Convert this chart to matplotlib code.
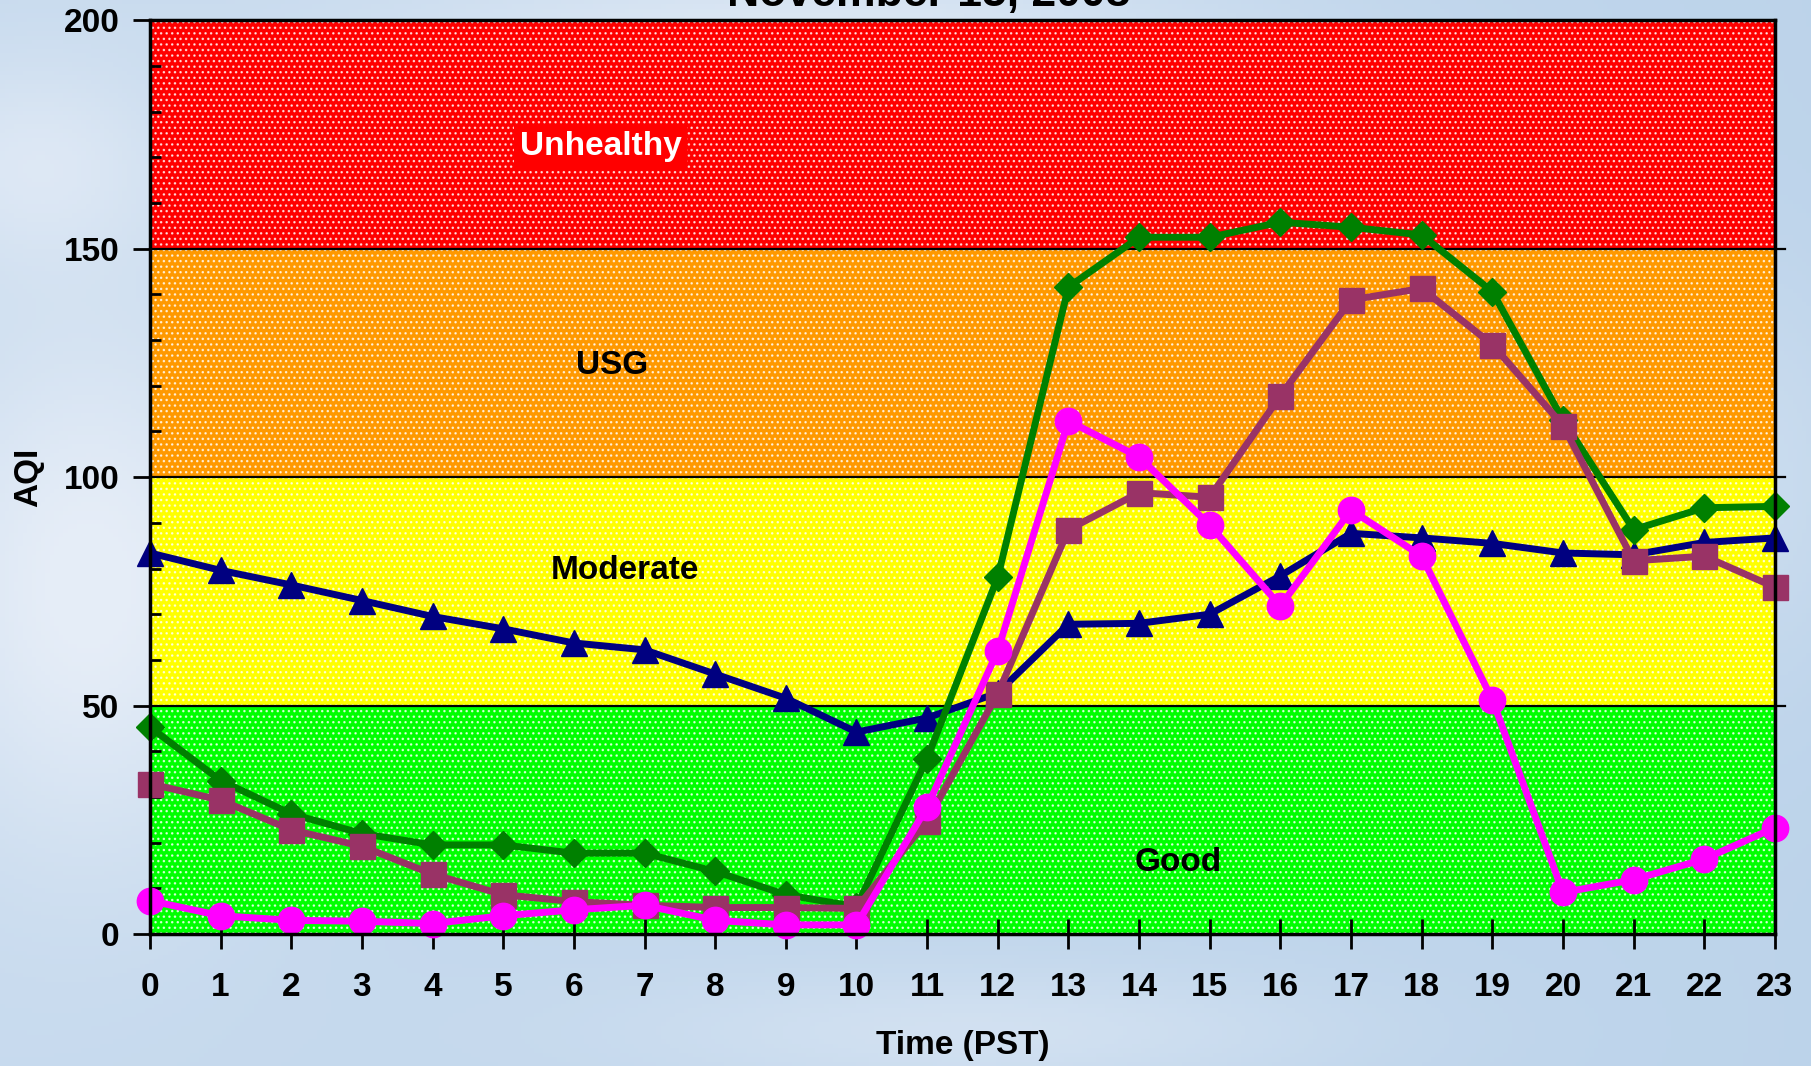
import numpy as np
import matplotlib
matplotlib.use("Agg")
import matplotlib.pyplot as plt

plt.rcParams['font.family'] = ['Liberation Sans', 'DejaVu Sans']
plt.rcParams['font.weight'] = 'bold'
plt.rcParams['hatch.linewidth'] = 1.0

hours = list(range(24))

# hourly AQI at the four sites
site_tri = [83.4, 79.6, 76.4, 73.0, 69.5, 66.8, 63.7, 62.2, 56.9, 51.6, 44.2, 47.3,
            52.8, 67.8, 68.0, 70.0, 78.4, 87.7, 86.7, 85.5, 83.4, 83.0, 85.7, 86.7]
site_dia = [45.3, 33.6, 26.3, 22.0, 19.5, 19.5, 17.7, 17.7, 13.7, 8.6, 6.0, 38.4,
            78.1, 141.6, 152.5, 152.5, 155.8, 154.7, 153.0, 140.6, 112.5, 88.5, 93.3, 93.6]
site_sq = [32.9, 29.3, 22.8, 19.2, 13.1, 8.6, 7.1, 6.3, 5.8, 5.8, 5.6, 24.8,
           52.6, 88.5, 96.6, 95.6, 117.8, 138.8, 141.3, 129.0, 111.3, 81.7, 82.7, 75.9]
site_circ = [7.3, 4.0, 3.0, 2.8, 2.3, 4.0, 5.3, 6.3, 3.0, 2.0, 2.0, 27.8,
             62.0, 112.3, 104.4, 89.5, 71.8, 92.8, 82.7, 51.3, 9.1, 11.9, 16.4, 23.3]

band_edges = [0, 50, 100, 150, 200]
band_colors = ['#00ff00', '#ffff00', '#ff9900', '#ff0000']
band_names = ['Good', 'Moderate', 'USG', 'Unhealthy']
band_label_pos = [(14.55, 15.7), (6.72, 79.6), (6.54, 124.4), (6.38, 172.4)]

fig = plt.figure(figsize=(18.11, 10.66), dpi=100)

# sky backdrop
bg = fig.add_axes([0, 0, 1, 1], zorder=-10)
gx, gy = np.meshgrid(np.linspace(0, 1, 400), np.linspace(0, 1, 240))
light = np.array([0.90, 0.93, 0.97])
deep = np.array([0.74, 0.83, 0.92])
w = 0.25 * (1 - gx)
for cx, cy, sx, sy, a in [(0.05, 0.55, 0.10, 0.25, 0.8), (0.45, 0.02, 0.25, 0.05, 0.6),
                          (0.02, 0.15, 0.08, 0.10, 0.5), (0.55, 0.97, 0.20, 0.06, 0.4),
                          (0.98, 0.45, 0.05, 0.20, 0.3)]:
    w = w + a * np.exp(-((gx - cx) / sx) ** 2 - ((gy - cy) / sy) ** 2)
w = np.clip(w, 0, 1)[..., None]
img = deep * (1 - w) + light * w
bg.imshow(img, extent=[0, 1, 0, 1], aspect='auto', origin='upper')
bg.axis('off')

ax = fig.add_axes([0.0828, 0.1238, 0.8973, 0.8572])
ax.patch.set_visible(False)

for lo, hi, c in zip(band_edges[:-1], band_edges[1:], band_colors):
    ax.axhspan(lo, hi, facecolor=c, edgecolor=(1, 1, 1, 0.75), hatch='...', lw=0, zorder=0)
for y in band_edges[1:-1]:
    ax.axhline(y, xmin=0, xmax=1.006, color='black', lw=1.6, clip_on=False, zorder=1)

for name, (x, y) in zip(band_names, band_label_pos):
    if name == 'Unhealthy':
        ax.text(x, y, name, ha='center', va='center', fontsize=24, color='white',
                fontweight='bold', zorder=2,
                bbox=dict(facecolor='#ff0000', edgecolor='none', pad=4))
    else:
        ax.text(x, y, name, ha='center', va='center', fontsize=24, color='black',
                fontweight='bold', zorder=2)

ax.plot(hours, site_tri, color='#000080', lw=5, marker='^', ms=19, clip_on=False, zorder=3)
ax.plot(hours, site_dia, color='#008000', lw=5, marker='D', ms=14, clip_on=False, zorder=4)
ax.plot(hours, site_sq, color='#993366', lw=5, marker='s', ms=18, clip_on=False, zorder=5)
ax.plot(hours, site_circ, color='#ff00ff', lw=5, marker='o', ms=19, clip_on=False, zorder=6)

ax.set_xlim(0, 23)
ax.set_ylim(0, 200)
ax.set_xticks(hours)
ax.set_yticks([0, 50, 100, 150, 200])
ax.set_yticks(range(0, 201, 10), minor=True)
ax.tick_params(axis='x', direction='inout', length=22, width=2, pad=16, labelsize=24)
ax.tick_params(axis='y', which='major', direction='out', length=12, width=2, pad=10, labelsize=24)
ax.tick_params(axis='y', which='minor', direction='in', length=8, width=2)
for lab in ax.get_xticklabels() + ax.get_yticklabels():
    lab.set_fontweight('bold')
for s in ax.spines.values():
    s.set_linewidth(2.5)
    s.set_zorder(7)

ax.set_xlabel('Time (PST)', fontsize=24, fontweight='bold', labelpad=20)
ax.set_ylabel('AQI', fontsize=24, fontweight='bold', labelpad=14)

fig.text(0.513, 1 - 6 / 1066, 'November 15, 2008', ha='center', va='baseline',
         fontsize=32, fontweight='bold')

fig.savefig('out.png', dpi=100)
